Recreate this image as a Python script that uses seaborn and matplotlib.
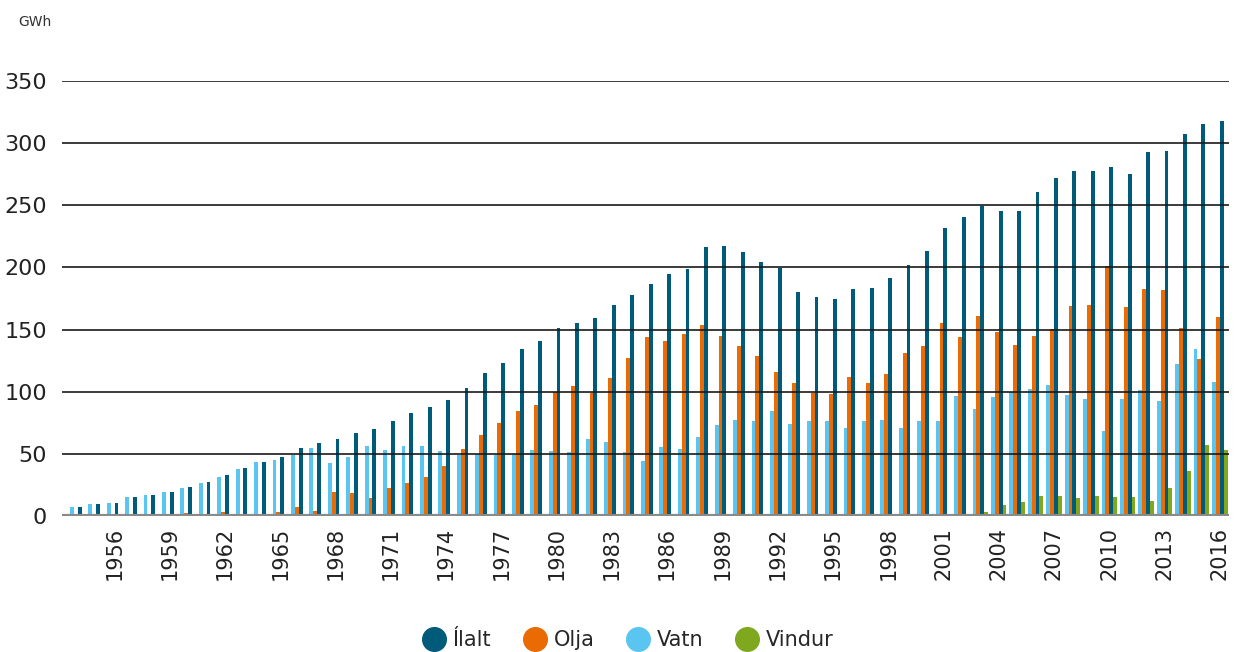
import numpy as np
import pandas as pd
import seaborn as sns
import matplotlib
matplotlib.use("Agg")
import matplotlib.pyplot as plt
from matplotlib.lines import Line2D

years = list(range(1954, 2017))

ialt = [7.0, 9.4, 10.2, 15.0, 16.7, 19.1, 23.1, 27.1, 32.8, 38.4, 43.3, 47.3,
        55.1, 59.1, 61.6, 66.4, 70.4, 76.1, 82.5, 87.4, 93.0, 102.7, 114.8, 122.8,
        134.4, 140.5, 150.9, 155.0, 159.0, 169.4, 177.5, 186.3, 194.4, 198.4, 216.1,
        216.9, 212.1, 204.0, 199.8, 180.5, 176.5, 174.9, 182.9, 183.7, 191.8, 202.2,
        213.5, 232.0, 240.8, 249.7, 245.8, 245.8, 260.3, 271.6, 277.2, 277.2, 281.2,
        274.8, 292.5, 293.3, 307.0, 315.8, 318.2]

olja = [0.3, 1.3, 0.5, 0.3, 0.3, 0.3, 2.2, 1.3, 3.0, 1.3, 0.5, 3.0,
        7.5, 4.3, 19.6, 18.8, 14.8, 22.8, 26.9, 31.7, 40.6, 54.3, 64.8, 74.5,
        84.1, 89.0, 99.7, 104.3, 98.7, 110.7, 126.8, 143.7, 140.5, 146.1, 153.4,
        144.5, 136.5, 128.4, 116.1, 107.3, 99.2, 98.4, 112.1, 107.3, 114.5, 131.4,
        137.1, 155.6, 144.3, 161.2, 147.7, 137.3, 144.5, 150.1, 168.6, 169.4, 200.8,
        167.8, 182.3, 181.5, 150.9, 126.0, 159.8]

vatn = [7.0, 9.4, 10.2, 15.0, 16.7, 19.1, 22.3, 26.3, 31.2, 37.6, 43.3, 44.9,
        48.7, 55.1, 43.0, 47.8, 56.7, 53.5, 56.7, 56.7, 52.7, 48.7, 49.5, 48.7,
        49.5, 52.8, 52.0, 51.2, 61.7, 59.2, 51.2, 44.0, 55.2, 53.6, 63.3,
        72.9, 76.9, 76.1, 84.8, 74.3, 76.7, 76.7, 71.1, 76.7, 77.5, 71.1,
        76.7, 76.7, 96.8, 86.4, 95.7, 99.7, 101.9, 105.1, 97.1, 93.8, 68.1,
        93.8, 101.1, 92.2, 122.0, 134.1, 107.5]

vindur = [0, 0, 0, 0, 0, 0, 0, 0, 0, 0, 0, 0,
          0, 0, 0, 0, 0, 0, 0, 0, 0, 0, 0, 0,
          0, 0, 0, 0, 0, 0, 0, 0, 0, 0, 0,
          0, 0, 0, 0, 0.3, 0.8, 0.8, 0.8, 0.8, 0.8, 0.8,
          0.8, 0.8, 0.8, 3.5, 8.6, 11.0, 15.8, 15.8, 14.2, 15.8, 15.0,
          15.0, 11.8, 22.3, 35.9, 56.8, 52.8]

series_order = ["Vatn", "Olja", "Ílalt", "Vindur"]
legend_order = ["Ílalt", "Olja", "Vatn", "Vindur"]
colors = {"Ílalt": "#005a7a", "Olja": "#ea6a04", "Vatn": "#5bc5f2", "Vindur": "#7fa81f"}

df = pd.concat([
    pd.DataFrame({"year": [str(y) for y in years], "value": vals, "series": name})
    for name, vals in [("Vatn", vatn), ("Olja", olja), ("Ílalt", ialt), ("Vindur", vindur)]
], ignore_index=True)

sns.set_style("white")
plt.rcParams["font.family"] = ["DejaVu Sans"]

fig = plt.figure(figsize=(12.35, 6.52), dpi=100)
ax = fig.add_axes([62 / 1235, (652 - 516) / 652, (1229 - 62) / 1235, (516 - 81) / 652])

sns.barplot(data=df, x="year", y="value", hue="series", hue_order=series_order,
            palette=colors, width=0.84, saturation=1, ax=ax, legend=False,
            errorbar=None, linewidth=0, zorder=2)

ax.set_ylim(0, 350)
ax.set_xlim(-0.85, len(years) - 1 + 0.5)
ax.set_yticks(np.arange(0, 351, 50))
for v in range(50, 351, 50):
    ax.axhline(v, color="#1a1a1a", lw=1.2, zorder=3)
ax.axhline(0, color="#8a8a8a", lw=3, zorder=4)

tick_idx = [i for i, y in enumerate(years) if (y - 1956) % 3 == 0]
ax.set_xticks(tick_idx)
ax.set_xticklabels([str(years[i]) for i in tick_idx], rotation=90, fontsize=15, color="#222222")
ax.tick_params(axis="x", length=0, pad=8)
ax.tick_params(axis="y", length=0, pad=11, labelsize=16, labelcolor="#222222")
ax.set_xlabel("")
ax.set_ylabel("")
for s in ax.spines.values():
    s.set_visible(False)
ax.grid(False)

fig.text(18 / 1235, 1 - 22 / 652, "GWh", fontsize=10, color="#333333", va="center", ha="left")

handles = [Line2D([0], [0], marker="o", color="none", markerfacecolor=colors[n],
                  markeredgecolor=colors[n], markersize=17, label=n) for n in legend_order]
fig.legend(handles=handles, loc="center", bbox_to_anchor=(0.508, 1 - 640 / 652), ncol=4,
           frameon=False, fontsize=15, handletextpad=0.3, columnspacing=1.5, handlelength=1.2)

fig.savefig("out.png", dpi=100)
